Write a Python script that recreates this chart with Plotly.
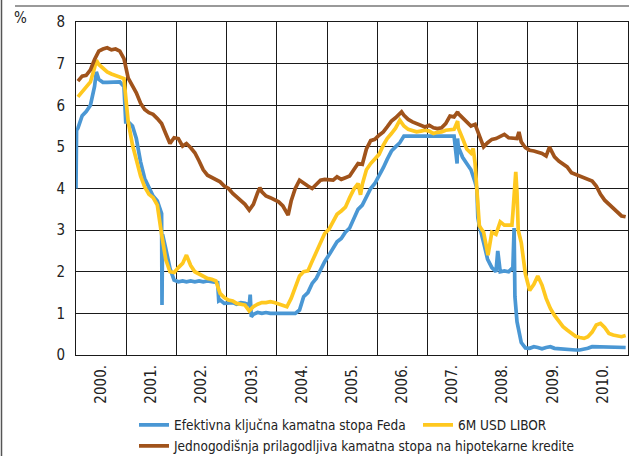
import pandas as pd
import plotly.graph_objects as go

# monthly readings (mid-month), Jan 2000 .. Dec 2010, in %
fed = [
    5.45, 5.75, 5.85, 6.00, 6.45, 6.62, 6.55, 6.55, 6.56, 6.55, 6.56, 6.45,  # 2000
    5.60, 5.50, 5.20, 4.64, 4.24, 4.00, 3.82, 3.70, 3.40, 2.56, 2.08, 1.80,  # 2001
    1.76, 1.78, 1.76, 1.78, 1.76, 1.78, 1.76, 1.78, 1.76, 1.76, 1.32, 1.24,  # 2002
    1.24, 1.26, 1.22, 1.26, 1.24, 1.20, 0.98, 1.02, 1.00, 1.02, 1.00, 1.00,  # 2003
    1.00, 1.02, 1.00, 1.02, 1.00, 1.08, 1.40, 1.50, 1.72, 1.84, 2.06, 2.24,  # 2004
    2.40, 2.56, 2.72, 2.80, 2.95, 3.05, 3.25, 3.50, 3.60, 3.80, 4.00, 4.12,  # 2005
    4.30, 4.50, 4.70, 4.90, 5.00, 5.10, 5.26, 5.26, 5.25, 5.26, 5.25, 5.26,  # 2006
    5.26, 5.26, 5.25, 5.26, 5.25, 5.26, 5.26, 5.00, 4.75, 4.60, 4.45, 4.15,  # 2007
    3.10, 2.70, 2.30, 2.10, 2.00, 2.00, 2.02, 2.00, 2.10, 0.80, 0.30, 0.17,  # 2008
    0.16, 0.20, 0.18, 0.15, 0.18, 0.20, 0.16, 0.15, 0.14, 0.12, 0.12, 0.12,  # 2009
    0.12, 0.13, 0.16, 0.20, 0.20, 0.18, 0.18, 0.19, 0.19, 0.19, 0.19, 0.18,  # 2010
]
libor = [
    6.20, 6.32, 6.44, 6.56, 6.90, 6.98, 6.88, 6.80, 6.75, 6.72, 6.68, 6.64,  # 2000
    5.60, 5.05, 4.70, 4.30, 4.04, 3.86, 3.78, 3.60, 2.90, 2.30, 2.00, 1.98,  # 2001
    2.10, 2.20, 2.40, 2.15, 2.00, 1.95, 1.88, 1.84, 1.82, 1.78, 1.48, 1.38,  # 2002
    1.32, 1.30, 1.24, 1.22, 1.20, 1.06, 1.16, 1.22, 1.26, 1.26, 1.28, 1.26,  # 2003
    1.22, 1.20, 1.16, 1.36, 1.62, 1.90, 2.00, 2.02, 2.25, 2.48, 2.70, 2.92,  # 2004
    3.02, 3.22, 3.38, 3.46, 3.55, 3.78, 3.98, 4.12, 4.10, 4.45, 4.60, 4.72,  # 2005
    4.82, 5.04, 5.20, 5.32, 5.45, 5.64, 5.50, 5.42, 5.38, 5.36, 5.38, 5.40,  # 2006
    5.38, 5.32, 5.35, 5.36, 5.40, 5.40, 5.42, 5.45, 5.20, 4.95, 4.85, 4.60,  # 2007
    3.10, 2.95, 2.45, 2.95, 2.90, 3.20, 3.12, 3.12, 3.40, 3.90, 2.70, 1.95,  # 2008
    1.55, 1.70, 1.90, 1.68, 1.36, 1.12, 0.95, 0.80, 0.68, 0.60, 0.52, 0.45,  # 2009
    0.42, 0.40, 0.44, 0.55, 0.72, 0.76, 0.66, 0.52, 0.48, 0.45, 0.44, 0.47,  # 2010
]
arm = [
    6.58, 6.70, 6.72, 6.85, 7.10, 7.30, 7.35, 7.38, 7.33, 7.35, 7.30, 7.12,  # 2000
    6.65, 6.45, 6.30, 6.05, 5.90, 5.82, 5.78, 5.68, 5.56, 5.32, 5.08, 5.22,  # 2001
    5.20, 5.02, 5.08, 4.98, 4.86, 4.66, 4.45, 4.32, 4.26, 4.22, 4.16, 4.06,  # 2002
    4.00, 3.88, 3.80, 3.72, 3.62, 3.48, 3.62, 3.90, 3.92, 3.82, 3.78, 3.74,  # 2003
    3.68, 3.58, 3.38, 3.70, 4.00, 4.20, 4.12, 4.06, 4.00, 4.10, 4.20, 4.22,  # 2004
    4.22, 4.20, 4.28, 4.22, 4.26, 4.30, 4.45, 4.60, 4.58, 4.95, 5.15, 5.18,  # 2005
    5.28, 5.36, 5.48, 5.62, 5.70, 5.80, 5.76, 5.66, 5.60, 5.56, 5.54, 5.48,  # 2006
    5.52, 5.46, 5.44, 5.46, 5.56, 5.74, 5.72, 5.80, 5.70, 5.62, 5.50, 5.54,  # 2007
    5.25, 5.00, 5.10, 5.18, 5.20, 5.24, 5.30, 5.22, 5.22, 5.20, 5.12, 4.98,  # 2008
    4.92, 4.90, 4.88, 4.84, 4.78, 4.95, 4.76, 4.66, 4.60, 4.52, 4.38, 4.34,  # 2009
    4.30, 4.24, 4.20, 4.18, 4.06, 3.86, 3.72, 3.62, 3.52, 3.44, 3.34, 3.32,  # 2010
]

# extra daily readings where the lines jump or spike
fed_extra_dates = ["2000-01-01", "2000-01-05", "2000-05-28", "2000-12-28",
                   "2001-09-18", "2001-09-22", "2002-10-28", "2002-11-05",
                   "2003-06-22", "2003-06-30", "2007-08-06", "2007-08-09",
                   "2007-12-28", "2008-01-04", "2008-05-28", "2008-09-24",
                   "2008-09-30"]
fed_extra = [4.00, 5.40, 6.80, 5.60,
             1.20, 2.90, 1.74, 1.30,
             1.45, 0.92, 4.60, 5.20,
             4.00, 3.30, 2.50, 3.05,
             1.40]
libor_extra_dates = ["2000-05-28", "2000-12-28", "2005-09-02", "2007-08-10",
                     "2007-12-01", "2007-12-24", "2008-03-18", "2008-09-08",
                     "2008-10-06", "2008-10-24"]
libor_extra = [7.08, 6.20, 3.85, 5.62,
               4.96, 4.10, 2.40, 3.12,
               4.40, 3.00]
arm_extra_dates = ["2003-08-31", "2004-03-24", "2006-06-28", "2007-08-10",
                   "2008-10-29", "2009-06-09"]
arm_extra = [4.02, 3.36, 5.84, 5.84, 5.36, 5.00]

year_labels = "%Y."
names = ["Efektivna ključna kamatna stopa Feda", "6M USD LIBOR",
         "Jednogodišnja prilagodljiva kamatna stopa na hipotekarne kredite"]
colors = ["#4A97D4", "#FFC81F", "#A0531B"]

months = pd.date_range("2000-01-01", periods=132, freq="MS") + pd.Timedelta(days=14)


def series(monthly, extra_dates, extra_vals):
    s = pd.Series(monthly, index=months)
    e = pd.Series(extra_vals, index=pd.to_datetime(extra_dates))
    return pd.concat([s, e]).sort_index()


W, H = 630, 456
L, R, T, B = 76, 2, 22, 101
FONT = "Liberation Sans Narrow, Arial Narrow, DejaVu Sans Condensed, sans-serif"


def fx(px):
    return (px - L) / (W - L - R)


def fy(py):
    return (H - B - py) / (H - T - B)


fig = go.Figure()
data = [series(fed, fed_extra_dates, fed_extra),
        series(libor, libor_extra_dates, libor_extra),
        series(arm, arm_extra_dates, arm_extra)]
# one legend box per entry, so each can sit where the reference has it
legends = ["legend", "legend3", "legend2"]
for s, name, c, lg in zip(data, names, colors, legends):
    fig.add_trace(go.Scatter(x=s.index, y=s.values, mode="lines", name=name,
                             line=dict(color=c, width=3.7), legend=lg,
                             showlegend=True))


def legend_box(x, y):
    return dict(orientation="h", xref="container", yref="container",
                x=x / W, y=1 - y / H, xanchor="left", yanchor="middle",
                itemwidth=30, font=dict(size=13.5), bgcolor="rgba(0,0,0,0)",
                visible=True)


fig.update_layout(
    width=W, height=H,
    margin=dict(l=L, r=R, t=T, b=B),
    paper_bgcolor="white", plot_bgcolor="white",
    font=dict(family=FONT, size=15, color="#222"),
    showlegend=True,
    legend=legend_box(134, 425),
    legend3=legend_box(418, 425),
    legend2=legend_box(134, 446),
    xaxis=dict(type="date", range=["2000-01-01", "2011-01-01"],
               tick0="2000-01-01", dtick="M12", ticklabelmode="period",
               tickformat=year_labels, tickangle=-90, ticks="",
               ticklabelstandoff=3,
               showgrid=True, gridcolor="#1a1a1a", gridwidth=1,
               showline=True, linecolor="#1a1a1a", linewidth=1, mirror=True,
               tickfont=dict(size=15)),
    yaxis=dict(range=[0, 8], dtick=1, ticks="", ticklabelstandoff=7,
               showgrid=True, gridcolor="#1a1a1a", gridwidth=1,
               showline=True, linecolor="#1a1a1a", linewidth=1, mirror=True,
               zeroline=False, tickfont=dict(size=15)),
    annotations=[dict(text="%", xref="paper", yref="paper", x=fx(20), y=fy(18),
                      showarrow=False, xanchor="center", yanchor="middle",
                      font=dict(size=15))],
    shapes=[
        dict(type="line", xref="paper", yref="paper", x0=fx(15), x1=fx(629),
             y0=fy(6), y1=fy(6), line=dict(color="#777", width=1.5)),
        dict(type="line", xref="paper", yref="paper", x0=fx(1.5), x1=fx(1.5),
             y0=fy(0), y1=fy(456), line=dict(color="#555", width=1.5)),
    ],
)

fig.write_html("out.html", config={"displayModeBar": False},
               post_script="document.body.style.margin = '0';")
